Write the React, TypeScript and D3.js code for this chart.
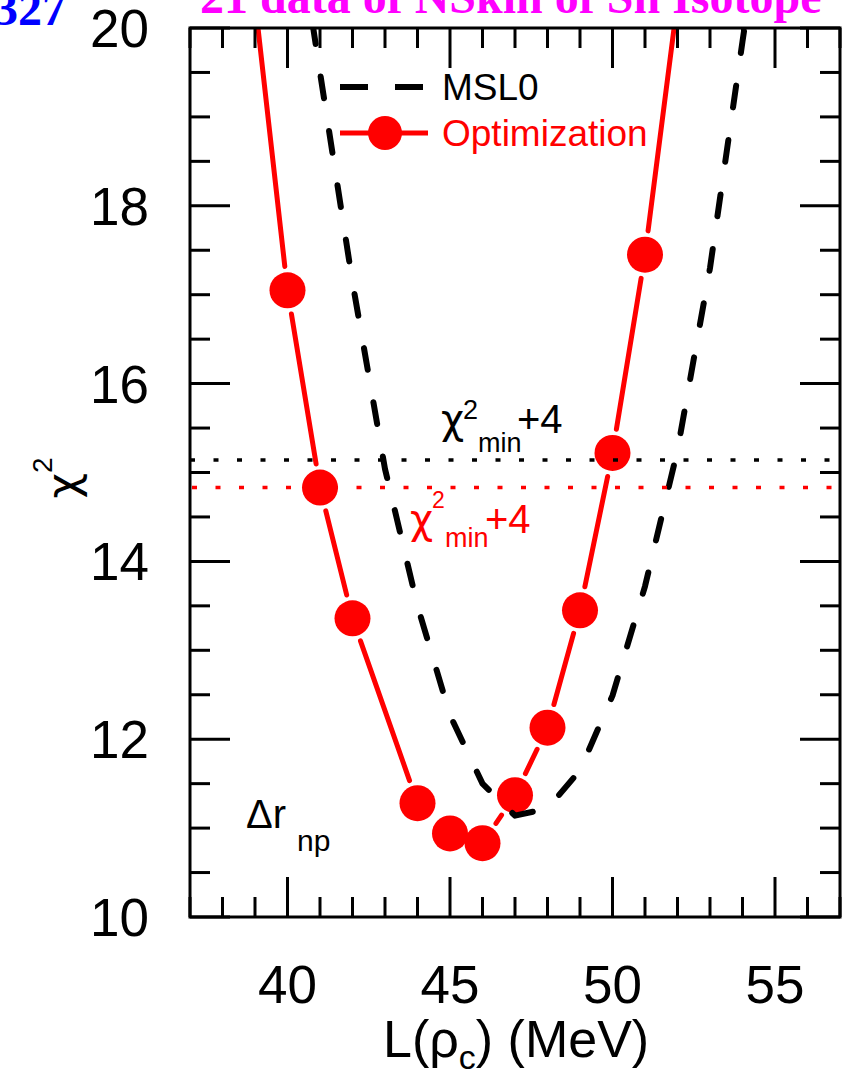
import React from 'react';
import * as d3 from 'd3';

// Optimization scan: chi^2 versus L(rho_c)
const optL = [39, 40, 41, 42, 44, 45, 46, 47, 48, 49, 50, 51, 52];
const optChi2 = [20.3, 17.05, 14.83, 13.36, 11.28, 10.94, 10.83, 11.37, 12.13, 13.45, 15.22, 17.45, 20.3];

// MSL0 scan
const msl0L = [40, 41, 42, 43, 44, 45, 46, 47, 48, 49, 50, 51, 52, 53, 54, 55];
const msl0Chi2 = [21.9, 19.5, 17.14, 15.04, 13.5, 12.27, 11.5, 11.14, 11.22, 11.65, 12.49, 13.72, 15.25, 17.3, 19.85, 22.3];

const xMajorTicks = [40, 45, 50, 55];
const yMajorTicks = [10, 12, 14, 16, 18, 20];
const xDomain = [37, 57];
const yDomain = [10, 20];

const W = 846;
const H = 1077;
const plot = { left: 190, right: 840, top: 28, bottom: 917 };

const SANS = '"Liberation Sans", Arial, Helvetica, sans-serif';
const SERIF = '"Liberation Serif", "Times New Roman", serif';
const GREEK = '"DejaVu Sans", "Liberation Sans", sans-serif';
const RED = '#ff0000';

export default function App() {
  const x = d3.scaleLinear().domain(xDomain).range([plot.left, plot.right]);
  const y = d3.scaleLinear().domain(yDomain).range([plot.bottom, plot.top]);

  const xMinor = d3.range(xDomain[0], xDomain[1] + 0.001, 1).filter((v) => !xMajorTicks.includes(v));
  const yMinor = d3.range(yDomain[0], yDomain[1] + 0.001, 0.5).filter((v) => !yMajorTicks.includes(v));

  const optPts = optL.map((l, i) => [x(l), y(optChi2[i])] as [number, number]);
  const mslPts = msl0L.map((l, i) => [x(l), y(msl0Chi2[i])] as [number, number]);

  // line pieces stop short of each marker
  const trim = 24;
  const segs: [number, number, number, number][] = [];
  for (let i = 0; i < optPts.length - 1; i++) {
    const [x0, y0] = optPts[i];
    const [x1, y1] = optPts[i + 1];
    const d = Math.hypot(x1 - x0, y1 - y0);
    if (d <= 2 * trim) continue;
    const ux = (x1 - x0) / d;
    const uy = (y1 - y0) / d;
    segs.push([x0 + ux * trim, y0 + uy * trim, x1 - ux * trim, y1 - uy * trim]);
  }

  const line = d3.line();
  const optMin = d3.min(optChi2) as number;
  const mslMin = d3.min(msl0Chi2) as number;

  const majLen = 40;
  const minLen = 20;
  const tickW = 3;

  return (
    <svg
      width={W}
      height={H}
      style={{ position: 'absolute', left: 0, top: 0, background: '#fff' }}
      fontFamily={SANS}
    >
      <defs>
        <clipPath id="plotArea">
          <rect x={plot.left} y={plot.top} width={plot.right - plot.left} height={plot.bottom - plot.top} />
        </clipPath>
      </defs>
      <rect x={0} y={0} width={W} height={H} fill="#fff" />

      {/* header */}
      <text x={66} y={25} textAnchor="end" fontFamily={SERIF} fontWeight="bold" fontSize={48} fill="#0000ff">
        327
      </text>
      <text x={200} y={13} fontFamily={SERIF} fontWeight="bold" fontSize={48} fill="#ff00ff">
        21 data of NSkin of Sn Isotope
      </text>

      <g clipPath="url(#plotArea)">
        {segs.map((s, i) => (
          <line key={i} x1={s[0]} y1={s[1]} x2={s[2]} y2={s[3]} stroke={RED} strokeWidth={5} strokeLinecap="round" />
        ))}
        {optPts.map((p, i) => (
          <circle key={i} cx={p[0]} cy={p[1]} r={18} fill={RED} />
        ))}
        <path
          d={line(mslPts) || ''}
          fill="none"
          stroke="#000"
          strokeWidth={6}
          strokeDasharray="22 33"
          strokeLinecap="round"
          strokeLinejoin="round"
        />
        <line
          x1={x(xDomain[0])}
          x2={x(xDomain[1])}
          y1={y(mslMin + 4)}
          y2={y(mslMin + 4)}
          stroke="#000"
          strokeWidth={3.5}
          strokeDasharray="5 18.5"
        />
        <line
          x1={x(xDomain[0])}
          x2={x(xDomain[1])}
          y1={y(optMin + 4)}
          y2={y(optMin + 4)}
          stroke={RED}
          strokeWidth={3.5}
          strokeDasharray="5 18.5"
          strokeDashoffset={-2}
        />
      </g>

      {/* annotations */}
      <text x={441} y={433} fontSize={40} fill="#000">
        <tspan fontFamily={GREEK}>χ</tspan>
        <tspan x={463} y={419} fontSize={27}>2</tspan>
        <tspan x={478} y={452} fontSize={27}>min</tspan>
        <tspan x={517} y={433} fontSize={40}>+4</tspan>
      </text>
      <text x={410} y={533} fontSize={40} fill={RED}>
        <tspan fontFamily={GREEK}>χ</tspan>
        <tspan x={432} y={508} fontSize={23}>2</tspan>
        <tspan x={445} y={547} fontSize={27}>min</tspan>
        <tspan x={485} y={533} fontSize={40}>+4</tspan>
      </text>
      <text x={246} y={828} fontSize={40} fill="#000">
        Δr
        <tspan x={297} y={851} fontSize={30}>np</tspan>
      </text>

      {/* legend */}
      <line x1={340} x2={425} y1={87} y2={87} stroke="#000" strokeWidth={6} strokeDasharray="28 27" />
      <text x={442} y={100} fontSize={37} fill="#000">MSL0</text>
      <line x1={340} x2={428} y1={133} y2={133} stroke={RED} strokeWidth={5} />
      <circle cx={385} cy={133} r={17} fill={RED} />
      <text x={442} y={146} fontSize={37} fill={RED}>Optimization</text>

      {/* frame and ticks */}
      <g stroke="#000" strokeWidth={tickW}>
        {xMajorTicks.map((v) => (
          <g key={'xM' + v}>
            <line x1={x(v)} x2={x(v)} y1={plot.bottom} y2={plot.bottom - majLen} />
            <line x1={x(v)} x2={x(v)} y1={plot.top} y2={plot.top + majLen} />
          </g>
        ))}
        {xMinor.map((v) => (
          <g key={'xm' + v}>
            <line x1={x(v)} x2={x(v)} y1={plot.bottom} y2={plot.bottom - minLen} />
            <line x1={x(v)} x2={x(v)} y1={plot.top} y2={plot.top + minLen} />
          </g>
        ))}
        {yMajorTicks.map((v) => (
          <g key={'yM' + v}>
            <line x1={plot.left} x2={plot.left + majLen} y1={y(v)} y2={y(v)} />
            <line x1={plot.right} x2={plot.right - majLen} y1={y(v)} y2={y(v)} />
          </g>
        ))}
        {yMinor.map((v) => (
          <g key={'ym' + v}>
            <line x1={plot.left} x2={plot.left + minLen} y1={y(v)} y2={y(v)} />
            <line x1={plot.right} x2={plot.right - minLen} y1={y(v)} y2={y(v)} />
          </g>
        ))}
        <rect
          x={plot.left}
          y={plot.top}
          width={plot.right - plot.left}
          height={plot.bottom - plot.top}
          fill="none"
          strokeLinejoin="miter"
        />
      </g>

      {/* tick labels */}
      {xMajorTicks.map((v) => (
        <text key={'xl' + v} x={x(v)} y={1003} textAnchor="middle" fontSize={53} fill="#000">
          {v}
        </text>
      ))}
      {yMajorTicks.map((v) => (
        <text key={'yl' + v} x={149} y={y(v)} dy="0.36em" textAnchor="end" fontSize={53} fill="#000">
          {v}
        </text>
      ))}

      {/* axis titles */}
      <text x={383} y={1057} fontSize={52} fill="#000">
        L(ρ
        <tspan fontSize={34} dy={12}>c</tspan>
        <tspan dy={-12}>) (MeV)</tspan>
      </text>
      <g transform="translate(78, 470) rotate(-90)">
        <text x={-8} y={0} fontSize={44} fill="#000" textAnchor="middle">
          <tspan fontFamily={GREEK}>χ</tspan>
          <tspan fontSize={28} dy={-26}>2</tspan>
        </text>
      </g>
    </svg>
  );
}
